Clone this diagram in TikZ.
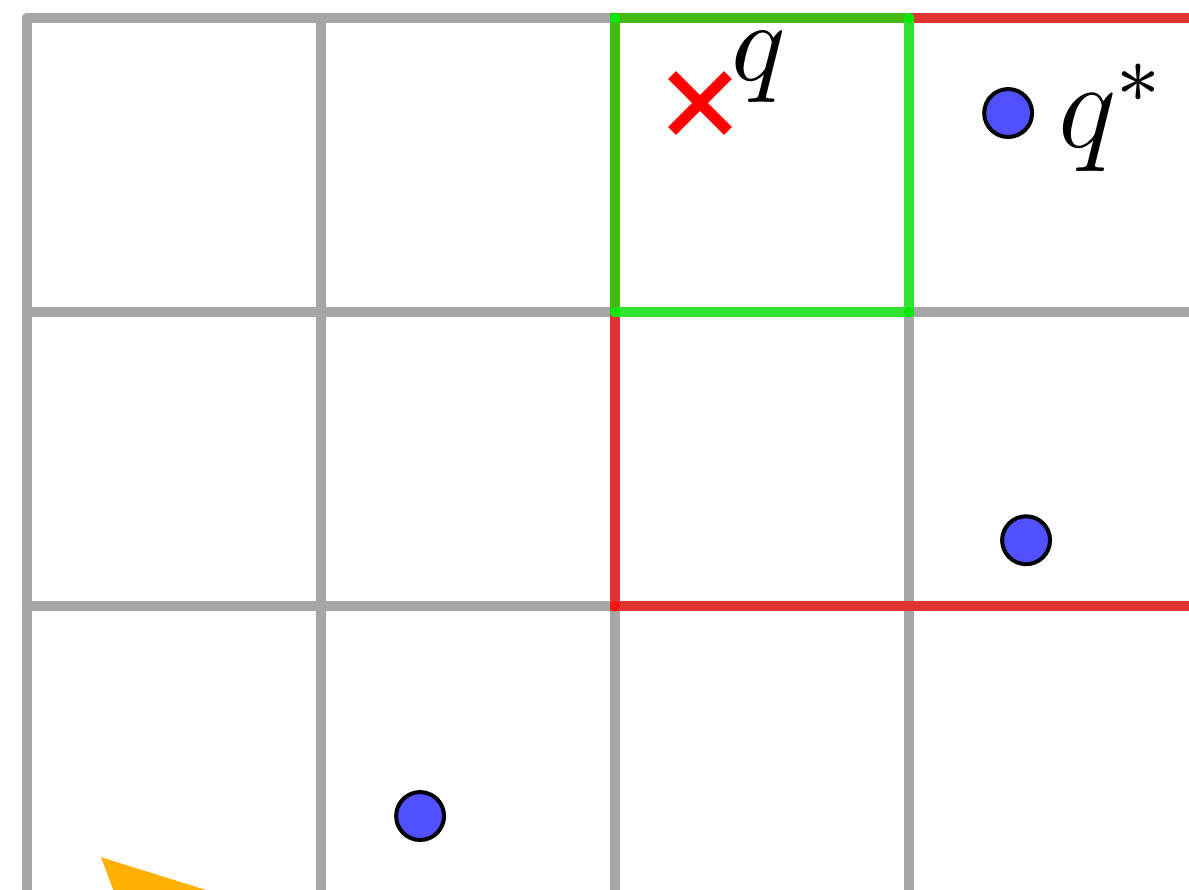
\documentclass[tikz,border=0pt]{standalone}
\definecolor{gridgray}{RGB}{167,167,167}
\definecolor{redline}{RGB}{226,51,51}
\definecolor{greendark}{RGB}{68,187,17}
\definecolor{greenlight}{RGB}{48,228,48}
\definecolor{greendot}{RGB}{10,232,10}
\definecolor{reddot}{RGB}{245,20,20}
\definecolor{dotblue}{RGB}{80,80,255}
\definecolor{orangefill}{RGB}{255,176,0}
\definecolor{crossred}{RGB}{255,0,0}
\begin{document}
\begin{tikzpicture}[x=1cm,y=-1cm,
  gridline/.style={draw=gridgray,line width=0.036cm,line cap=round},
  redseg/.style={draw=redline,line width=0.036cm},
  greenA/.style={draw=greendark,line width=0.036cm},
  greenB/.style={draw=greenlight,line width=0.036cm},
  cornerdot/.style={circle,fill=#1,inner sep=0pt,minimum size=0.036cm},
  pointdot/.style={circle,draw=black,fill=dotblue,line width=0.0136cm,inner sep=0pt,minimum size=0.163cm},
  crossline/.style={draw=crossred,line width=0.038cm},
  lbl/.style={inner sep=0pt,anchor=base west}]
\useasboundingbox (-0.0918,-0.0612) rectangle (3.952,2.963);
\clip (-0.0918,-0.0612) rectangle (3.952,2.963);
% grid
\foreach \v in {0,1,2} \draw[gridline] (0,\v) -- (4.3,\v);
\foreach \u in {0,1,2,3} \draw[gridline] (\u,0) -- (\u,3.3);
% red region boundary
\coordinate (rA) at (3,0);
\coordinate (rB) at (4.3,0);
\coordinate (rC) at (2,1);
\coordinate (rD) at (2,2);
\coordinate (rE) at (4.3,2);
\draw[redseg] (rA) -- (rB);
\draw[redseg] (rC) -- (rD) -- (rE);
\node[cornerdot=reddot] (rdot) at (rD) {};
% green cell
\coordinate (g1) at (2,0);
\coordinate (g2) at (3,0);
\coordinate (g3) at (3,1);
\coordinate (g4) at (2,1);
\draw[greenA] (g4) -- (g1) -- (g2);
\draw[greenB] (g2) -- (g3) -- (g4);
\foreach \c in {g1,g2,g3,g4} \node[cornerdot=greendot] at (\c) {};
% orange triangle
\fill[orangefill] (0.252,2.854) -- (0.357,3.136) -- (1.153,3.136) -- cycle;
% points
\node[pointdot] (p1) at (3.337,0.323) {};
\node[pointdot] (p2) at (3.398,1.776) {};
\node[pointdot] (p3) at (1.337,2.714) {};
% query cross
\coordinate (qc) at (2.289,0.289);
\draw[crossline] ([shift={(-0.095,-0.095)}]qc) -- ([shift={(0.095,0.095)}]qc);
\draw[crossline] ([shift={(-0.095,0.095)}]qc) -- ([shift={(0.095,-0.095)}]qc);
% labels
\node[lbl,font=\fontsize{11.4}{13}\selectfont] (lq) at (2.39,0.214) {$q$};
\node[lbl,font=\fontsize{12}{14}\selectfont] (lqs) at (3.5,0.439) {$q^*$};
\end{tikzpicture}
\end{document}
